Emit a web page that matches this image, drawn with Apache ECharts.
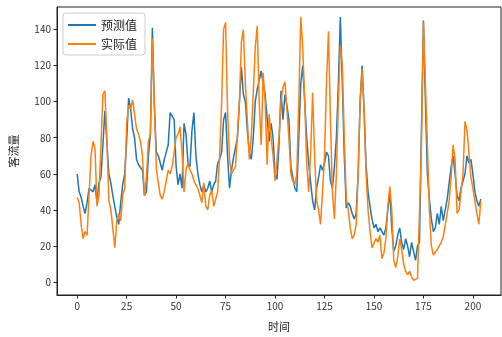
<!DOCTYPE html>
<html>
<head>
<meta charset="utf-8">
<script src="https://cdn.jsdelivr.net/npm/echarts@6/dist/echarts.min.js"></script>
<style>html,body{margin:0;padding:0;background:#fff}#c{width:502px;height:337px}</style>
</head>
<body>
<div id="c"></div>
<script>
const predicted = [
60,50,47,42,38,44,52,52,50,54,
44,55,58,76,95,96,60,55,48,42,
36,32,44,54,60,78,102,96,85,80,
68,65,64,62,48,50,70,82,141,98,
72,70,66,62,68,72,76,94,95,90,
64,54,60,52,88,82,66,64,84,94,
70,60,54,50,54,50,52,56,50,54,
56,66,68,72,90,94,70,52,62,69,
68,80,100,119,104,100,84,72,68,80,
100,107,112,117,110,104,103,78,88,80,
60,57,76,106,90,104,98,90,64,58,
52,50,80,110,120,100,80,66,55,45,
40,52,58,65,62,66,72,70,56,52,
64,80,110,147,110,70,41,44,42,38,
35,38,60,100,120,95,65,50,42,35,
30,32,28,30,28,26,30,40,50,30,
17,20,26,30,22,18,24,20,14,22,
17,12,20,22,85,145,100,60,46,35,
28,30,38,32,42,34,40,46,55,64,
70,60,48,45,52,56,60,70,66,68,
60,50,45,42,46
];
const actual = [
47,44,32,24,28,26,48,70,78,74,
42,48,75,104,106,80,45,40,30,19,
34,38,34,48,52,88,98,96,101,100,
85,82,78,70,48,58,78,82,135,100,
63,55,48,46,50,56,62,60,64,72,
80,82,86,72,50,62,66,62,60,56,
55,52,52,44,55,42,40,48,51,42,
43,50,70,100,140,144,95,68,60,62,
64,65,100,133,140,110,90,68,80,105,
130,142,100,76,116,100,65,93,80,70,
56,55,80,100,108,111,110,80,60,56,
54,60,100,147,130,100,66,50,72,105,
70,45,40,32,50,70,110,139,90,50,
35,60,100,131,120,80,46,40,30,24,
26,32,60,100,118,96,60,40,28,19,
20,24,22,26,13,16,24,42,53,40,
12,8,14,24,18,10,6,4,6,3,
1,2,2,1,75,144,110,76,40,20,
15,16,18,20,22,25,24,38,45,58,
76,68,38,40,50,60,89,84,72,58,
52,45,38,32,45
];
const xTicks = [0,25,50,75,100,125,150,175,200];
const yTicks = [0,20,40,60,80,100,120,140];
const seriesNames = ['预测值','实际值'];

const toPairs = arr => arr.map((v,i)=>[i,v]);
const chart = echarts.init(document.getElementById('c'), null, {renderer:'canvas'});
const font = '"Noto Sans CJK SC", "DejaVu Sans", sans-serif';
chart.setOption({
  animation:false,
  backgroundColor:'#fff',
  textStyle:{fontFamily:font},
  grid:{left:57,top:7,right:1,bottom:40,show:true,borderColor:'#222',borderWidth:1,backgroundColor:'transparent'},
  legend:{
    orient:'vertical',left:63,top:13,
    data:seriesNames,
    icon:'rect',itemWidth:28,itemHeight:2,itemGap:7,
    padding:[6,8,5,5],
    borderColor:'#ccc',borderWidth:1,borderRadius:3,backgroundColor:'#fff',
    textStyle:{fontSize:12,color:'#222',fontFamily:font}
  },
  xAxis:{
    type:'value',min:-10.2,max:214.2,
    name:'时间',nameLocation:'middle',nameGap:26,
    nameTextStyle:{fontSize:11,color:'#222',fontFamily:font},
    axisLine:{show:true,onZero:false,lineStyle:{color:'#222'}},
    axisTick:{show:true,length:3.5,lineStyle:{color:'#222'},customValues:xTicks},
    axisLabel:{fontSize:10,color:'#333',margin:6,customValues:xTicks},
    splitLine:{show:false}
  },
  yAxis:{
    type:'value',min:-7.2,max:152.5,
    name:'客流量',nameLocation:'middle',nameGap:38,nameRotate:90,
    nameTextStyle:{fontSize:11,color:'#222',fontFamily:font},
    axisLine:{show:true,onZero:false,lineStyle:{color:'#222'}},
    axisTick:{show:true,length:3.5,lineStyle:{color:'#222'},customValues:yTicks},
    axisLabel:{fontSize:10,color:'#333',margin:6,customValues:yTicks},
    splitLine:{show:false}
  },
  series:[
    {name:seriesNames[0],type:'line',data:toPairs(predicted),showSymbol:false,symbol:'none',
     lineStyle:{color:'#1f77b4',width:1.5},itemStyle:{color:'#1f77b4'},z:2},
    {name:seriesNames[1],type:'line',data:toPairs(actual),showSymbol:false,symbol:'none',
     lineStyle:{color:'#ff7f0e',width:1.5},itemStyle:{color:'#ff7f0e'},z:3}
  ]
});
</script>
</body>
</html>
